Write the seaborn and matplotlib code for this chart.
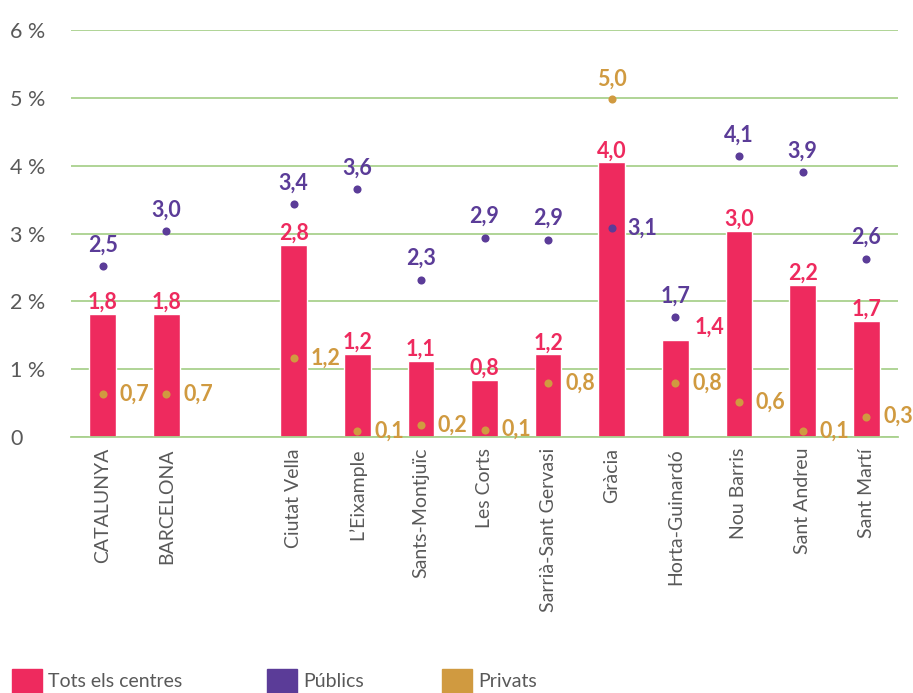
import numpy as np
import pandas as pd
import matplotlib
matplotlib.use("Agg")
import matplotlib.pyplot as plt
import matplotlib.patches as mpatches
import seaborn as sns

# --- dades ---
categories = ["CATALUNYA", "BARCELONA", "", "Ciutat Vella", "L\u2019Eixample", "Sants-Montju\u00efc",
              "Les Corts", "Sarri\u00e0-Sant Gervasi", "Gr\u00e0cia", "Horta-Guinard\u00f3",
              "Nou Barris", "Sant Andreu", "Sant Mart\u00ed"]
tots = [1.82, 1.82, np.nan, 2.83, 1.23, 1.12, 0.84, 1.22, 4.05, 1.43, 3.04, 2.24, 1.71]
publics = [2.52, 3.03, np.nan, 3.43, 3.66, 2.32, 2.94, 2.91, 3.08, 1.77, 4.14, 3.90, 2.63]
privats = [0.63, 0.63, np.nan, 1.16, 0.09, 0.18, 0.11, 0.80, 4.99, 0.80, 0.52, 0.09, 0.30]
tots_lbl = ["1,8", "1,8", "", "2,8", "1,2", "1,1", "0,8", "1,2", "4,0", "1,4", "3,0", "2,2", "1,7"]
publics_lbl = ["2,5", "3,0", "", "3,4", "3,6", "2,3", "2,9", "2,9", "3,1", "1,7", "4,1", "3,9", "2,6"]
privats_lbl = ["0,7", "0,7", "", "1,2", "0,1", "0,2", "0,1", "0,8", "5,0", "0,8", "0,6", "0,1", "0,3"]
yticks = [0, 1, 2, 3, 4, 5, 6]
ytick_lbl = ["0", "1 %", "2 %", "3 %", "4 %", "5 %", "6 %"]
series_names = ["Tots els centres", "P\u00fablics", "Privats"]

# colors
c_tots = "#EE2A5E"
c_pub = "#5B3C98"
c_priv = "#D09A40"
c_grid = "#A9D18E"
c_text = "#595959"

sns.set_style("white")
plt.rcParams['font.family'] = ['Lato', 'DejaVu Sans']

df = pd.DataFrame({"cat": categories, "tots": tots, "pub": publics, "priv": privats})
pos = np.arange(len(categories))

fig = plt.figure(figsize=(9.13, 6.93), dpi=100)
ax = fig.add_axes([71 / 913, 1 - 437 / 693, (898 - 71) / 913, (437 - 30) / 693])

sns.barplot(data=df, x="cat", y="tots", order=categories, color=c_tots, width=0.42,
            saturation=1, ax=ax, zorder=2)
ax.scatter(pos, df["pub"], s=34, color=c_pub, zorder=3, linewidths=0)
ax.scatter(pos, df["priv"], s=34, color=c_priv, zorder=3, linewidths=0)

# etiquetes de valors (posicions per defecte, amb excepcions)
px = 0.72
vfs = 15.5
for i in range(len(categories)):
    if categories[i] == "":
        continue
    # tots: a sobre de la barra
    if categories[i] == "Horta-Guinard\u00f3":
        ax.annotate(tots_lbl[i], (pos[i] + 0.53, tots[i]), xytext=(0, 2 * px), textcoords="offset points",
                    ha="center", va="bottom", color=c_tots, fontsize=vfs, fontweight="bold")
    else:
        ax.annotate(tots_lbl[i], (pos[i], tots[i]), xytext=(0, 1 * px), textcoords="offset points",
                    ha="center", va="bottom", color=c_tots, fontsize=vfs, fontweight="bold")
    # publics
    if categories[i] == "Gr\u00e0cia":
        ax.annotate(publics_lbl[i], (pos[i], publics[i]), xytext=(16 * px, 0), textcoords="offset points",
                    ha="left", va="center", color=c_pub, fontsize=vfs, fontweight="bold")
    else:
        ax.annotate(publics_lbl[i], (pos[i], publics[i]), xytext=(0, 21 * px), textcoords="offset points",
                    ha="center", va="center", color=c_pub, fontsize=vfs, fontweight="bold")
    # privats
    if categories[i] == "Gr\u00e0cia":
        ax.annotate(privats_lbl[i], (pos[i], privats[i]), xytext=(0, 19 * px), textcoords="offset points",
                    ha="center", va="center", color=c_priv, fontsize=vfs, fontweight="bold")
    else:
        ax.annotate(privats_lbl[i], (pos[i], privats[i]), xytext=(17 * px, 0), textcoords="offset points",
                    ha="left", va="center", color=c_priv, fontsize=vfs, fontweight="bold")

# eixos
ax.set_xlim(-0.5, len(categories) - 0.5)
ax.set_ylim(0, 6)
ax.set_yticks(yticks)
ax.set_yticklabels(ytick_lbl)
for lbl in ax.get_yticklabels():
    lbl.set_horizontalalignment("left")
ax.tick_params(axis="y", length=0, pad=61 * px, labelsize=15.5, labelcolor=c_text)
ax.set_xticks(pos)
ax.set_xticklabels(categories, rotation=90, va="top", ha="center")
ax.tick_params(axis="x", which="major", length=0, pad=11 * px, labelsize=14, labelcolor=c_text)
ax.set_xticks(np.arange(-0.5, len(categories)), minor=True)
ax.tick_params(axis="x", which="minor", length=7 * px, width=1.2, color=c_grid, direction="out")
ax.set_xlabel("")
ax.set_ylabel("")
ax.yaxis.grid(True, color=c_grid, linewidth=1.3, zorder=0)
ax.set_axisbelow(True)
for s in ["top", "right", "left"]:
    ax.spines[s].set_visible(False)
ax.spines["bottom"].set_color(c_grid)
ax.spines["bottom"].set_linewidth(1.3)

# llegenda
colors = [c_tots, c_pub, c_priv]
leg_x = [12, 267, 442]
for name, col, x in zip(series_names, colors, leg_x):
    h = mpatches.Patch(color=col, label=name)
    fig.legend(handles=[h], loc="lower left", bbox_to_anchor=(x / 913, 0), frameon=False,
               fontsize=14, handlelength=1.55, handleheight=1.55, handletextpad=0.3,
               borderpad=0, borderaxespad=0, labelcolor=c_text)

fig.savefig("out.png", dpi=100)
